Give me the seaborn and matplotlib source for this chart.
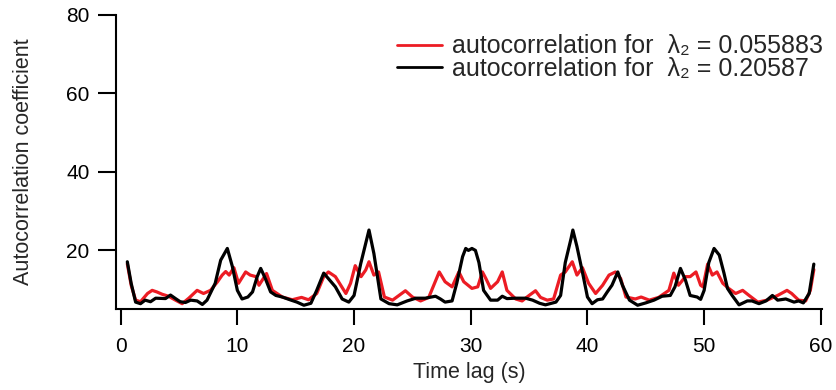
import matplotlib
matplotlib.use("Agg")
import matplotlib.pyplot as plt
import seaborn as sns
import pandas as pd

# ---- data ----
t_black = [0.57, 0.9, 1.28, 1.7, 2.1, 2.56, 3.0, 3.84, 4.27, 4.7, 5.1, 5.55, 6.0, 6.55, 7.0, 7.4,
           8.1, 8.57, 9.14, 9.57, 10.0, 10.4, 10.9, 11.3, 11.7, 12.0, 12.4, 12.85, 13.3, 13.85,
           14.6, 15.1, 15.7, 16.3, 16.8, 17.4, 17.8, 18.4, 18.98, 19.55, 20.0, 20.57, 21.28,
           21.7, 22.3, 23.0, 23.7, 24.55, 25.3, 26.1, 26.98, 27.4, 27.8, 28.4, 28.8, 29.3,
           29.57, 29.8, 30.1, 30.4, 30.7, 31.1, 31.7, 32.3, 32.7, 33.1, 33.85, 34.7, 35.3,
           35.9, 36.4, 37.3, 37.7, 38.1, 38.6, 38.75, 39.1, 39.6, 40.0, 40.4, 40.86, 41.3,
           41.7, 42.1, 42.6, 43.0, 43.6, 44.3, 45.0, 45.7, 46.4, 47.1, 47.5, 47.97, 48.4,
           48.8, 49.4, 49.7, 50.0, 50.4, 50.85, 51.3, 51.7, 52.0, 52.4, 52.99, 53.7, 54.1,
           54.7, 55.3, 55.85, 56.3, 57.0, 57.7, 58.1, 58.5, 59.0, 59.4]
v_black = [17.0, 11.5, 6.7, 6.3, 7.2, 6.8, 7.7, 7.6, 8.5, 7.6, 6.8, 6.6, 7.2, 7.0, 6.1, 7.2,
           11.5, 17.4, 20.4, 15.8, 9.7, 7.5, 8.0, 9.3, 13.2, 15.3, 12.7, 9.3, 8.4, 8.0,
           7.2, 6.7, 5.9, 6.4, 9.7, 14.1, 12.7, 10.6, 7.5, 6.7, 8.4, 16.5, 25.1,
           19.1, 7.5, 6.3, 6.0, 7.0, 7.7, 7.7, 8.2, 7.5, 6.7, 7.0, 11.5, 18.3,
           20.4, 19.9, 20.4, 19.9, 16.8, 9.7, 7.2, 7.2, 8.2, 7.6, 7.7, 7.7, 7.2,
           6.4, 6.0, 6.7, 8.4, 16.8, 23.0, 25.1, 20.9, 13.9, 8.0, 6.3, 7.3, 7.5,
           9.3, 11.0, 14.4, 11.0, 7.2, 5.9, 6.5, 7.2, 8.2, 8.4, 10.6, 15.3, 12.3,
           8.4, 8.0, 7.4, 9.7, 16.8, 20.4, 18.7, 14.1, 10.2, 8.4, 6.0, 7.0, 7.0,
           6.3, 7.0, 8.4, 7.2, 7.5, 6.7, 7.0, 6.5, 8.9, 16.4]

t_red = [0.57, 0.9, 1.28, 1.7, 2.3, 2.7, 3.1, 3.56, 4.1, 4.7, 5.27, 5.84, 6.55, 7.1, 7.7,
         8.3, 8.7, 9.0, 9.3, 9.7, 10.1, 10.71, 11.1, 11.6, 11.85, 12.5, 13.0, 13.85, 14.7,
         15.5, 16.1, 16.8, 17.4, 17.8, 18.4, 19.3, 19.7, 20.1, 20.6, 21.0, 21.28, 21.7,
         22.1, 22.6, 23.3, 23.85, 24.4, 25.0, 25.7, 26.4, 27.3, 27.8, 28.4, 28.98, 29.4,
         30.1, 30.6, 31.0, 31.3, 31.7, 32.3, 32.7, 33.1, 33.85, 34.4, 35.0, 35.55, 35.98,
         36.55, 37.1, 37.7, 38.1, 38.7, 39.1, 39.57, 40.1, 40.7, 41.3, 41.85, 42.4, 42.85,
         43.3, 44.1, 44.6, 45.3, 46.1, 46.98, 47.4, 47.8, 48.4, 48.8, 49.3, 49.7, 49.9,
         50.3, 50.7, 51.1, 51.6, 52.1, 52.7, 53.3, 53.85, 54.6, 55.4, 56.3, 57.1, 57.5,
         58.1, 58.7, 59.1, 59.4]
v_red = [16.5, 11.0, 7.2, 6.8, 8.9, 9.7, 9.3, 8.7, 8.2, 7.2, 6.3, 7.7, 9.7, 8.9, 9.7,
         11.9, 13.6, 14.5, 13.6, 15.5, 11.5, 14.4, 13.6, 13.2, 11.0, 14.0, 9.7, 8.0, 7.3,
         7.9, 7.3, 8.9, 13.2, 14.4, 13.2, 8.9, 11.5, 16.0, 13.2, 14.9, 17.0, 13.6,
         14.4, 8.0, 7.2, 8.4, 9.6, 8.0, 7.0, 7.9, 14.4, 11.9, 10.6, 14.4, 11.9,
         10.2, 10.6, 14.4, 12.7, 10.2, 11.9, 14.4, 9.7, 7.5, 7.0, 8.4, 9.6, 7.9,
         7.2, 7.5, 13.6, 14.4, 17.0, 13.6, 15.5, 11.5, 8.9, 11.0, 13.6, 14.4, 12.7,
         8.0, 7.5, 8.0, 7.2, 7.9, 9.7, 14.1, 11.0, 13.2, 13.2, 14.4, 11.0, 10.6,
         16.4, 13.6, 14.4, 11.5, 10.2, 8.9, 9.7, 8.4, 6.7, 7.2, 8.4, 9.7, 8.9,
         7.2, 7.0, 9.7, 15.0]

label_red = "autocorrelation for  λ₂ = 0.055883"
label_black = "autocorrelation for  λ₂ = 0.20587"
x_ticks = [0, 10, 20, 30, 40, 50, 60]
y_ticks = [20, 40, 60, 80]

sns.set_theme(style="ticks")
plt.rcParams['font.family'] = ['Liberation Sans', 'DejaVu Sans']

fig = plt.figure(figsize=(8.36, 3.9), dpi=100)
ax = fig.add_axes([116/836, 1 - 309/390, (822 - 116)/836, (309 - 15)/390])

df_red = pd.DataFrame({"t": t_red, "v": v_red})
df_black = pd.DataFrame({"t": t_black, "v": v_black})
sns.lineplot(data=df_red, x="t", y="v", ax=ax, color="#ec1c24", linewidth=2.3,
             sort=False, estimator=None, label=label_red)
sns.lineplot(data=df_black, x="t", y="v", ax=ax, color="black", linewidth=2.3,
             sort=False, estimator=None, label=label_black)

ax.set_xlim(-0.4, 60.1)
ax.set_ylim(4.94, 80)
ax.set_xticks(x_ticks)
ax.set_yticks(y_ticks)
ax.tick_params(axis='x', direction='out', length=11.5, width=1.5, labelsize=15,
               colors='black', pad=9)
ax.tick_params(axis='y', direction='out', length=13, width=1.5, labelsize=15,
               colors='black', pad=6)
for s in ['top', 'right']:
    ax.spines[s].set_visible(False)
for s in ['left', 'bottom']:
    ax.spines[s].set_linewidth(1.5)
    ax.spines[s].set_color('black')

ax.set_xlabel("Time lag (s)", fontsize=15.5, va='top')
ax.xaxis.set_label_coords(0.5, -0.18)
ax.set_ylabel("Autocorrelation coefficient", fontsize=15.5)
ax.yaxis.set_label_coords(-0.116, 0.5)

leg = ax.legend(loc='upper right', bbox_to_anchor=(1.015, 0.968), frameon=False,
                fontsize=18, handlelength=1.8, handletextpad=0.4, labelspacing=-0.05,
                borderaxespad=0.0)
for line in leg.get_lines():
    line.set_linewidth(2.0)

fig.savefig("out.png", dpi=100)
